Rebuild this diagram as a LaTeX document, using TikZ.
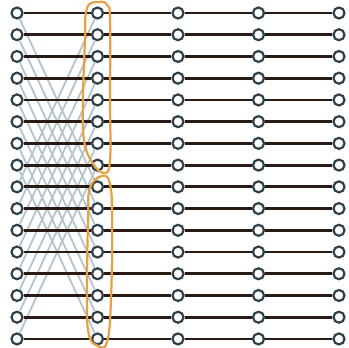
\documentclass[tikz,border=0pt]{standalone}
\usepackage{tikz}
\definecolor{wiredark}{RGB}{42,26,20}
\definecolor{nodeslate}{RGB}{47,66,76}
\definecolor{swapgrey}{RGB}{180,196,205}
\definecolor{looporange}{RGB}{230,160,65}

\begin{document}
\begin{tikzpicture}[x=1pt,y=-1pt,
    qnode/.style={circle, draw=nodeslate, fill=white, line width=2.2pt, minimum size=11pt, inner sep=0pt},
    wire/.style={wiredark, line width=2.8pt},
    swapline/.style={swapgrey, line width=1.8pt},
    grouploop/.style={looporange, line width=2.2pt}]
    \useasboundingbox (0,0) rectangle (349,348);

    % nodes: 5 columns, 16 rows
    \foreach \c in {0,...,4}
        \foreach \r in {0,...,15}
            \node[qnode] (n\c-\r) at (17+80.5*\c, 13+21.73*\r) {};

    % swapped halves between first two columns
    \foreach \r in {0,...,15} {
        \pgfmathtruncatemacro\other{mod(\r+8,16)}
        \draw[swapline] (n0-\r) -- (n1-\other);
    }

    % wires
    \foreach \c [evaluate=\c as \d using int(\c+1)] in {0,...,3}
        \foreach \r in {0,...,15}
            \draw[wire] (n\c-\r) -- (n\d-\r);

    % groups in second column
    \draw[grouploop] plot[smooth cycle, tension=0.7] coordinates {(99,2) (87,8) (85,40) (83,100) (84,140) (92,162) (104,173) (110,160) (110,100) (110,20) (107,5)};
    \draw[grouploop] plot[smooth cycle, tension=0.7] coordinates {(102,176) (90,188) (88,220) (87,300) (89,335) (98,346) (107,342) (111,300) (112,220) (110,184)};
\end{tikzpicture}
\end{document}
